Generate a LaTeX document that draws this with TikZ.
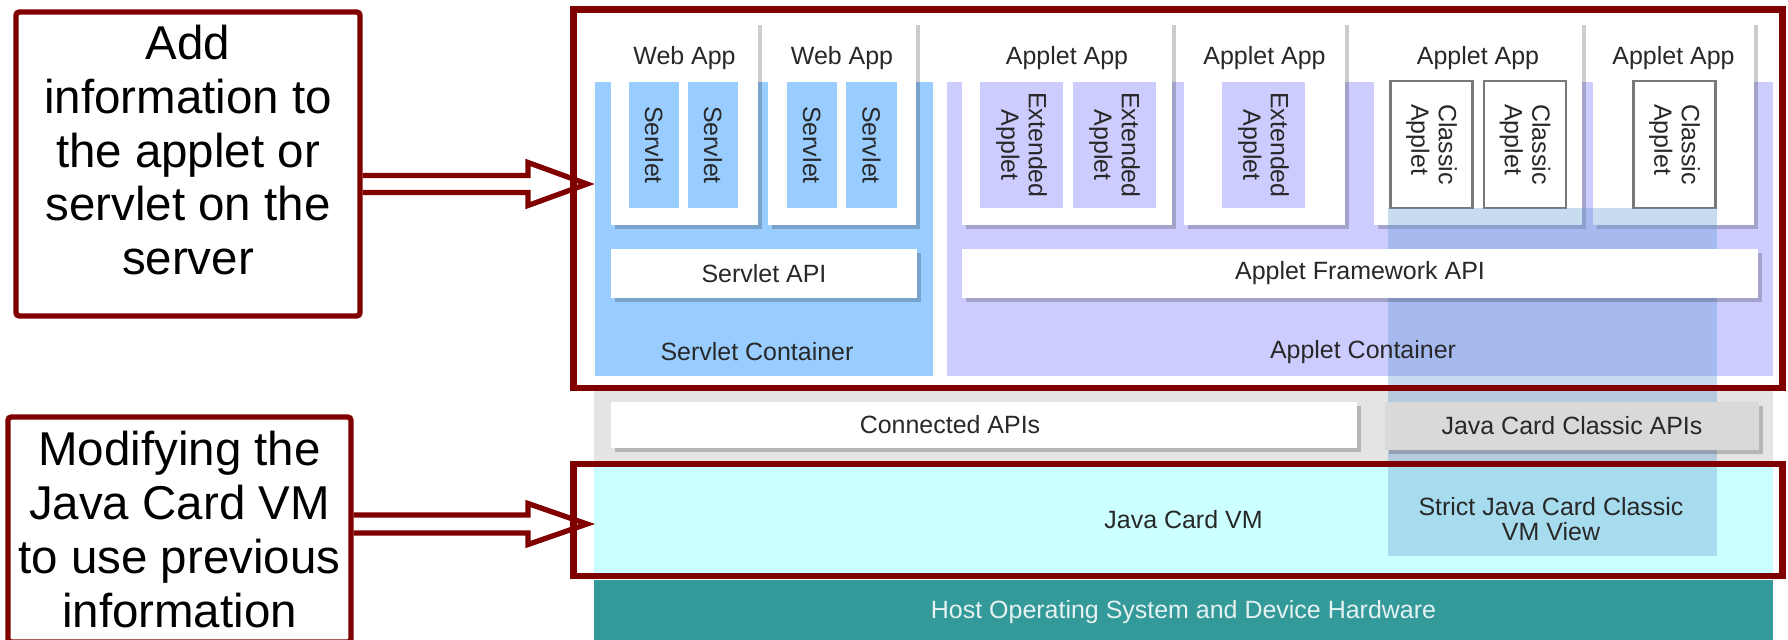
\documentclass[tikz,border=0pt]{standalone}
\usepackage{fontspec}
\setmainfont{Liberation Sans}
\usetikzlibrary{calc,shadows}

\definecolor{redline}{RGB}{128,0,0}
\definecolor{servletblue}{RGB}{153,204,255}
\definecolor{appletlilac}{RGB}{204,204,255}
\definecolor{vmcyan}{RGB}{204,255,255}
\definecolor{hostteal}{RGB}{51,153,153}
\definecolor{hosttext}{RGB}{230,242,242}
\definecolor{apigrey}{RGB}{217,217,217}
\definecolor{bandgrey}{RGB}{228,228,228}
\definecolor{overlayblue}{RGB}{98,155,212}
\definecolor{classicgrey}{RGB}{120,120,120}
\definecolor{textgrey}{RGB}{40,40,40}

\begin{document}
\begin{tikzpicture}[x=0.01cm, y=-0.01cm,
    blk/.style={inner sep=0pt, outer sep=0pt, align=center, text=textgrey,
        font=\fontsize{7.1}{7.8}\selectfont},
    app/.style={blk, fill=white, minimum height=2.04cm,
        drop shadow={shadow xshift=1.2pt, shadow yshift=-1.2pt, opacity=0.2, fill=black}},
    bar/.style={blk, fill=white, minimum height=0.49cm,
        drop shadow={shadow xshift=1.2pt, shadow yshift=-1.2pt, opacity=0.2, fill=black}},
    servlet/.style={blk, fill=servletblue, rotate=-90, minimum width=1.26cm, minimum height=0.50cm},
    extapp/.style={blk, fill=appletlilac, rotate=-90, minimum width=1.26cm, minimum height=0.83cm},
    classic/.style={blk, fill=white, draw=classicgrey, line width=0.6pt, rotate=-90, align=left,
        minimum width=1.27cm, minimum height=0.82cm},
    hl/.style={draw=redline, line width=1.9pt, inner sep=0pt, outer sep=0pt},
    note/.style={draw=redline, line width=1.5pt, rounded corners=1pt, inner sep=0pt, align=center,
        font=\fontsize{13.5}{15.3}\selectfont},
    hollow/.style={draw=redline, line width=1.5pt}]

\path[use as bounding box, fill=white] (0,0) rectangle (1788,640);
\clip (0,0) rectangle (1788,640);

% layers
\node(band)[blk, fill=bandgrey, minimum width=11.79cm, minimum height=0.75cm] at (1183.5,425.5) {};
\node(vm)[blk, fill=vmcyan, minimum width=11.79cm, minimum height=1.12cm] at (1183.5,520) {Java Card VM};
\node(host)[blk, fill=hostteal, text=hosttext, minimum width=11.79cm, minimum height=0.64cm] at (1183.5,612) {Host Operating System and Device Hardware};

\node(sc)[blk, fill=servletblue, minimum width=3.38cm, minimum height=2.94cm] at (764,229) {};
\node(ac)[blk, fill=appletlilac, minimum width=8.26cm, minimum height=2.94cm] at (1360,229) {};

% applications
\node(wa1)[app, minimum width=1.47cm] at (684.5,123) {};
\node(wa2)[app, minimum width=1.48cm] at (842,123) {};
\node(aa1)[app, minimum width=2.10cm] at (1067,123) {};
\node(aa2)[app, minimum width=1.61cm] at (1264.5,123) {};
\node(aa3)[app, minimum width=2.08cm] at (1478,123) {};
\node(aa4)[app, minimum width=1.61cm] at (1673.5,123) {};

\node(wt1)[blk, anchor=base] at (684.5,65) {Web App};
\node(wt2)[blk, anchor=base] at (842,65) {Web App};
\node(at1)[blk, anchor=base] at (1067,65) {Applet App};
\node(at2)[blk, anchor=base] at (1264.5,65) {Applet App};
\node(at3)[blk, anchor=base] at (1478,65) {Applet App};
\node(at4)[blk, anchor=base] at (1673.5,65) {Applet App};

\node(s1)[servlet] at (654,145) {Servlet};
\node(s2)[servlet] at (713,145) {Servlet};
\node(s3)[servlet] at (812,145) {Servlet};
\node(s4)[servlet] at (871.5,145) {Servlet};

\node(e1)[extapp] at (1021.5,145) {Extended\\Applet};
\node(e2)[extapp] at (1114.5,145) {Extended\\Applet};
\node(e3)[extapp] at (1263.5,145) {Extended\\Applet};

\node(c1)[classic] at (1431.5,144.5) {Classic\\Applet};
\node(c2)[classic] at (1525,144.5) {Classic\\Applet};
\node(c3)[classic] at (1674.5,144.5) {Classic\\Applet};

% strict classic view
\node(strict)[blk, fill=overlayblue, fill opacity=0.35, minimum width=3.29cm, minimum height=3.48cm] at (1552.5,382) {};

\node(sapi)[bar, minimum width=3.06cm] at (764,273.5) {Servlet API};
\node(fapi)[bar, minimum width=7.96cm] at (1360,273.5) {Applet Framework API};
\node(sctext)[blk] at (757,352) {Servlet Container};
\node(actext)[blk] at (1363,352) {Applet Container};

\node(capi)[bar, minimum width=7.46cm, minimum height=0.46cm] at (984,425) {};
\node(captext)[blk] at (950,425) {Connected APIs};
\node(jcapi)[bar, fill=apigrey, minimum width=3.74cm, minimum height=0.48cm] at (1572,426) {Java Card Classic APIs};
\node(strtext)[blk, font=\fontsize{7.1}{7.2}\selectfont] at (1551,519) {Strict Java Card Classic\\VM View};

% highlights
\node(hl1)[hl, minimum width=12.08cm, minimum height=3.785cm] at (1178,198.75) {};
\node(hl2)[hl, minimum width=12.08cm, minimum height=1.12cm] at (1178,520) {};

\node(note1)[note, minimum width=3.44cm, minimum height=3.04cm] at (188,164) {Add\\information to\\the applet or\\servlet on the\\server\rule[-8pt]{0pt}{0pt}};
\node(note2)[note, minimum width=3.43cm, minimum height=2.25cm] at (179.5,529.5) {Modifying the\\Java Card VM\\to use previous\\information};

\coordinate(tip1) at (587,184);
\coordinate(tip2) at (587,524);

\draw[hollow] ($(note1.east |- tip1)+(0,-8.5)$) -- ($(tip1)+(-59,-8.5)$) -- ($(tip1)+(-59,-21.5)$)
    -- (tip1) -- ($(tip1)+(-59,21.5)$) -- ($(tip1)+(-59,8.5)$) -- ($(note1.east |- tip1)+(0,8.5)$);
\draw[hollow] ($(note2.east |- tip2)+(0,-9)$) -- ($(tip2)+(-59,-9)$) -- ($(tip2)+(-59,-20.5)$)
    -- (tip2) -- ($(tip2)+(-59,20.5)$) -- ($(tip2)+(-59,9)$) -- ($(note2.east |- tip2)+(0,9)$);
\end{tikzpicture}
\end{document}
